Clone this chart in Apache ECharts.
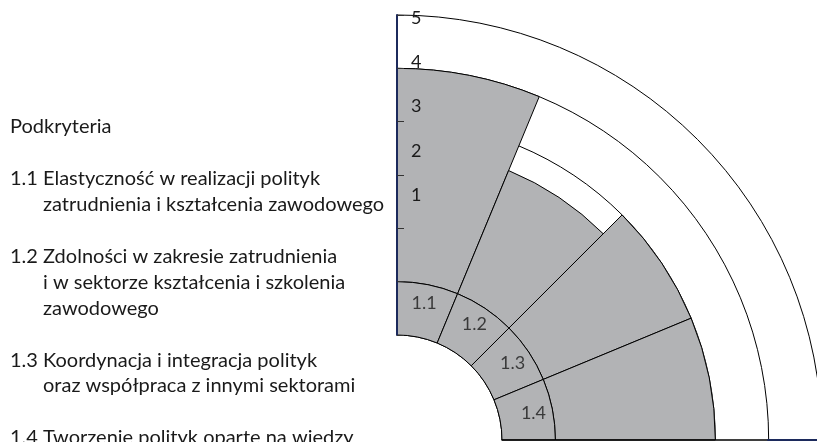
<!DOCTYPE html>
<html><head><meta charset="utf-8">
<script src="https://cdn.jsdelivr.net/npm/echarts@6/dist/echarts.min.js"></script>
<style>html,body{margin:0;padding:0;background:#fff}#c{width:817px;height:442px}</style>
</head><body><div id="c"></div>
<script>
const categories = ['1.1', '1.2', '1.3', '1.4'];
const scores = [4, 2.5, 3, 3];
const ringDepth = [-1, -1, -1, -1];
const radiusTickValues = [1, 2, 3, 4, 5];
const legendTitle = 'Podkryteria';
const legendCodes = ['1.1', '1.2', '1.3', '1.4'];
const legendTexts = [
  ['Elastyczność w realizacji polityk', 'zatrudnienia i kształcenia zawodowego'],
  ['Zdolności w zakresie zatrudnienia', 'i w sektorze kształcenia i szkolenia', 'zawodowego'],
  ['Koordynacja i integracja polityk', 'oraz współpraca z innymi sektorami'],
  ['Tworzenie polityk oparte na wiedzy']
];

const FONT = 'Lato, "Open Sans", sans-serif';
const GRAY = '#b2b3b5';
const NAVY = '#1c2a5c';
const CX = 397, CY = 440;

const chart = echarts.init(document.getElementById('c'), null, {renderer: 'canvas'});

// legend text layout (positions only): uniform line height, one blank line between paragraphs
const LH = 25.9;
const TITLE_Y = 127;
const FS = '20px ';
const graphics = [];
graphics.push({type: 'text', x: 10, y: TITLE_Y, style: {text: legendTitle, font: FS + FONT, fill: '#1a1a1a', verticalAlign: 'middle'}});
let yc = TITLE_Y;
legendCodes.forEach((code, i) => {
  yc += 2 * LH;
  graphics.push({type: 'text', x: 10, y: yc, style: {text: code, font: FS + FONT, fill: '#1a1a1a', verticalAlign: 'middle'}});
  legendTexts[i].forEach((line, j) => {
    graphics.push({type: 'text', x: 43, y: yc + j * LH, style: {text: line, font: FS + FONT, fill: '#1a1a1a', verticalAlign: 'middle'}});
  });
  yc += (legendTexts[i].length - 1) * LH;
});

const hiddenAngle = (idx, start) => ({polarIndex: idx, type: 'value', min: 0, max: 1, startAngle: start, endAngle: start - 90, clockwise: true, show: false});

const option = {
  animation: false,
  backgroundColor: '#fff',
  graphic: graphics,
  polar: [
    {center: [CX, CY], radius: [105, 425]},
    {center: [CX, CY], radius: [200.75, 422]},
    {center: [CX, CY], radius: [105, 371]},
    {center: [CX, CY], radius: [371, 480]},
    {center: [CX, CY], radius: [105, 425]}
  ],
  angleAxis: [
    {polarIndex: 0, type: 'category', data: categories, startAngle: 90, endAngle: 0, clockwise: true,
     boundaryGap: true, axisLine: {show: false}, axisTick: {show: false}, axisLabel: {show: false}, splitLine: {show: false}},
    hiddenAngle(1, 90),
    hiddenAngle(2, 0),
    hiddenAngle(3, 0),
    hiddenAngle(4, 90)
  ],
  radiusAxis: [
    {polarIndex: 0, type: 'value', min: -1, max: 5, interval: 1,
     axisLine: {show: false}, axisTick: {show: false}, axisLabel: {show: false},
     splitLine: {show: true, lineStyle: {color: '#000', width: 1}}},
    {polarIndex: 1, type: 'value', min: 0, max: 5, interval: 1, z: 20,
     axisLine: {show: false}, axisTick: {show: false}, splitLine: {show: false},
     axisLabel: {show: true, margin: -14, align: 'left', showMinLabel: false, fontSize: 18, fontFamily: FONT, color: '#1a1a1a',
       formatter: v => radiusTickValues.includes(v) ? String(v) : ''}},
    {polarIndex: 2, type: 'value', min: 0, max: 1, z: 20,
     axisLine: {show: true, lineStyle: {color: '#000', width: 1.5}}, axisTick: {show: false}, axisLabel: {show: false}, splitLine: {show: false}},
    {polarIndex: 3, type: 'value', min: 0, max: 1, z: 20,
     axisLine: {show: true, lineStyle: {color: NAVY, width: 2}}, axisTick: {show: false}, axisLabel: {show: false}, splitLine: {show: false}},
    {polarIndex: 4, type: 'value', min: -1, max: 5, interval: 1, z: 20,
     axisLine: {show: true, lineStyle: {color: NAVY, width: 2}},
     axisTick: {show: true, length: -7, lineStyle: {color: '#333', width: 1}},
     axisLabel: {show: false}, splitLine: {show: false}}
  ],
  series: [
    {type: 'bar', coordinateSystem: 'polar', polarIndex: 0, data: scores, barGap: '-100%', barCategoryGap: '0%',
     itemStyle: {color: GRAY, borderColor: '#000', borderWidth: 1}, z: 2},
    {type: 'bar', coordinateSystem: 'polar', polarIndex: 0, data: ringDepth, barGap: '-100%', barCategoryGap: '0%',
     itemStyle: {color: GRAY, borderColor: '#000', borderWidth: 1}, z: 3},
    {type: 'scatter', coordinateSystem: 'polar', polarIndex: 0, symbolSize: 0, z: 5,
     data: categories.map(c => [-0.36, c]),
     label: {show: true, position: 'inside', formatter: p => p.value[1], fontSize: 18, fontFamily: FONT, color: '#1a1a1a'}}
  ]
};
chart.setOption(option);
</script>
</body></html>
